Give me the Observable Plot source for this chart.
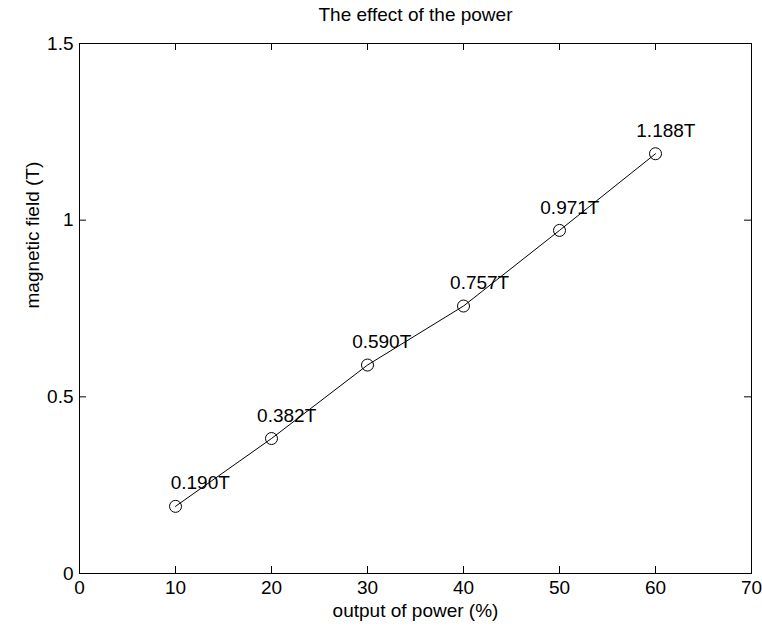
<!DOCTYPE html>
<html>
<head>
<meta charset="utf-8">
<script src="https://cdn.jsdelivr.net/npm/d3@7"></script>
<script src="https://cdn.jsdelivr.net/npm/@observablehq/plot@0.6"></script>
<style>
  html, body { margin: 0; padding: 0; background: #fff; }
  svg { display: block; }
</style>
</head>
<body>
<div id="chart"></div>
<script>
// ---- data ----
const power = [10, 20, 30, 40, 50, 60];
const field = [0.190, 0.382, 0.590, 0.757, 0.971, 1.188];
const labels = ["0.190T", "0.382T", "0.590T", "0.757T", "0.971T", "1.188T"];
const labelX = [9.5, 18.5, 28.4, 38.6, 48, 58];
const xTicks = [0, 10, 20, 30, 40, 50, 60, 70];
const yTicks = [0, 0.5, 1, 1.5];
const yTickLabels = ["0", "0.5", "1", "1.5"];
const title = "The effect of the power";
const xLabel = "output of power (%)";
const yLabel = "magnetic field (T)";

const rows = power.map((p, i) => ({x: p, y: field[i], label: labels[i], lx: labelX[i]}));

const W = 762, H = 631;
const mL = 79, mR = 11, mT = 43, mB = 58;
const innerW = W - mL - mR, innerH = H - mT - mB;
const tickLen = 7;
const fs = 19;
const font = "'Liberation Sans', Arial, Helvetica, sans-serif";

const chart = Plot.plot({
  width: W,
  height: H,
  marginLeft: mL,
  marginRight: mR,
  marginTop: mT,
  marginBottom: mB,
  style: {fontFamily: font, fontSize: fs + "px", color: "#000", background: "#fff"},
  x: {domain: [0, 70]},
  y: {domain: [0, 1.5]},
  marks: [
    Plot.axisX({ticks: xTicks, tickSize: 0, tickPadding: 7, label: null, fontSize: fs, tickFormat: d => String(d)}),
    Plot.axisY({ticks: yTicks, tickSize: 0, tickPadding: 6, label: null, fontSize: fs,
      tickFormat: d => yTickLabels[yTicks.indexOf(d)]}),
    Plot.tickX(xTicks, {x: d => d, insetTop: innerH - tickLen, stroke: "#000", strokeWidth: 1}),
    Plot.tickX(xTicks, {x: d => d, insetBottom: innerH - tickLen, stroke: "#000", strokeWidth: 1}),
    Plot.tickY(yTicks, {y: d => d, insetRight: innerW - tickLen, stroke: "#000", strokeWidth: 1}),
    Plot.tickY(yTicks, {y: d => d, insetLeft: innerW - tickLen, stroke: "#000", strokeWidth: 1}),
    Plot.frame({stroke: "#000", strokeWidth: 1}),
    Plot.line(rows, {x: "x", y: "y", stroke: "#000", strokeWidth: 1}),
    Plot.dot(rows, {x: "x", y: "y", r: 6, stroke: "#000", fill: "none", strokeWidth: 1}),
    Plot.text(rows, {x: "lx", y: "y", text: "label", textAnchor: "start", dy: -23, fontSize: fs, fill: "#000"}),
    Plot.text([title], {frameAnchor: "top", lineAnchor: "middle", dy: -29, text: d => d, fontSize: fs, fill: "#000"}),
    Plot.text([xLabel], {frameAnchor: "bottom", lineAnchor: "middle", dy: 37, text: d => d, fontSize: fs, fill: "#000"}),
    Plot.text([yLabel], {frameAnchor: "left", dx: -47, rotate: -90, text: d => d, fontSize: fs, fill: "#000"})
  ]
});
document.getElementById("chart").appendChild(chart);
</script>
</body>
</html>
